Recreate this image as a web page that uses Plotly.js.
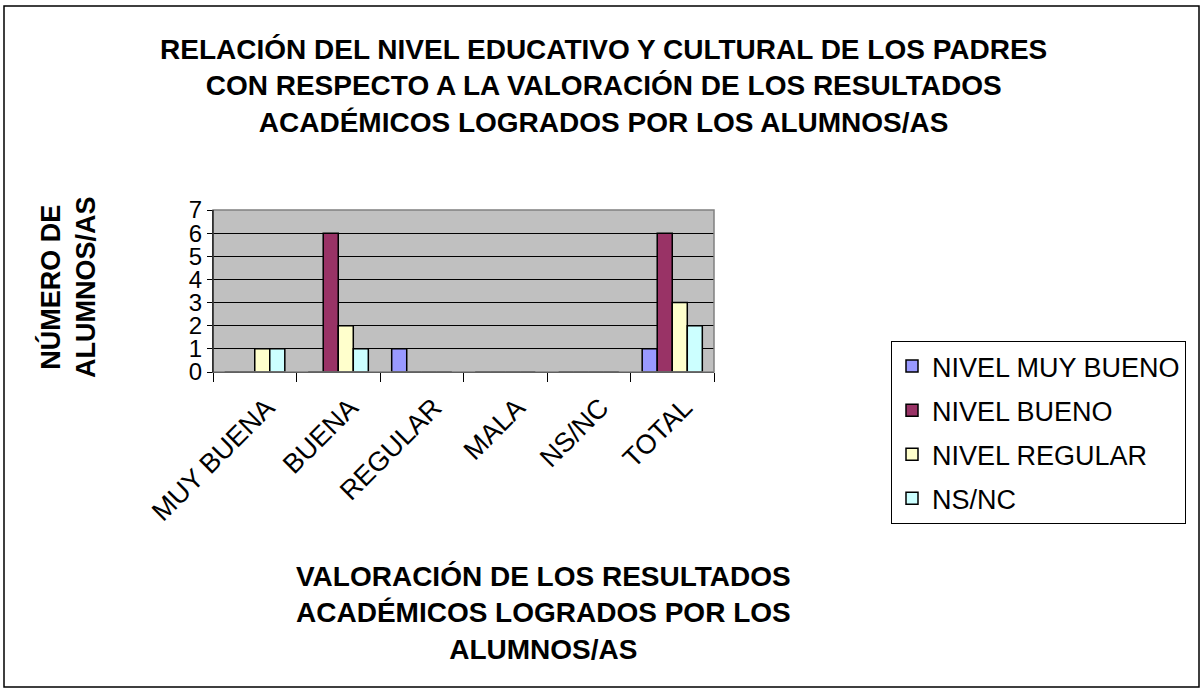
<!DOCTYPE html>
<html><head><meta charset="utf-8">
<script src="https://cdn.plot.ly/plotly-3.0.1.min.js"></script>
<style>html,body{margin:0;padding:0;background:#fff;}#chart{width:1203px;height:693px;}</style>
</head><body><div id="chart"></div>
<script>
const categories = ["MUY BUENA", "BUENA", "REGULAR", "MALA", "NS/NC", "TOTAL"];
const seriesNames = ["NIVEL MUY BUENO", "NIVEL BUENO", "NIVEL REGULAR", "NS/NC"];
const nivelMuyBueno = [0, 0, 1, 0, 0, 1];
const nivelBueno = [0, 6, 0, 0, 0, 6];
const nivelRegular = [1, 2, 0, 0, 0, 3];
const nsnc = [1, 1, 0, 0, 0, 2];
const yTicks = [0, 1, 2, 3, 4, 5, 6, 7];
const colors = ["#9999ff", "#993366", "#ffffcc", "#ccffff"];

const allSeries = [nivelMuyBueno, nivelBueno, nivelRegular, nsnc];
const traces = allSeries.map((vals, i) => ({
  type: "bar", x: categories, y: vals, name: seriesNames[i],
  legendgroup: "g" + i,
  marker: {color: colors[i], line: {color: "#000", width: 1.5}},
  hoverinfo: "x+y+name"
}));

const L = 213, R = 714, T = 210, B = 372, W = 1203, H = 693;
const pw = R - L, ph = B - T;
const px = x => (x - L) / pw;
const py = y => (B - y) / ph;
const FF = "Liberation Sans, Arial, sans-serif";

const layout = {
  width: W, height: H,
  margin: {l: L, r: W - R, t: T, b: H - B, pad: 0},
  paper_bgcolor: "#fff", plot_bgcolor: "#c0c0c0",
  font: {family: FF, color: "#000", size: 27},
  barmode: "group", bargap: 0.28, bargroupgap: 0,
  showlegend: true,
  legend: {
    x: px(891), y: py(341), xanchor: "left", yanchor: "top",
    bgcolor: "#fff", bordercolor: "#000", borderwidth: 1,
    font: {size: 27, family: FF},
    tracegroupgap: 6, itemwidth: 30, maxheight: 400
  },
  xaxis: {
    type: "category", tickangle: -45, tickson: "boundaries", ticks: "outside", ticklen: 9,
    tickcolor: "#000", tickfont: {size: 27}, showgrid: false, showline: true, linecolor: "#000",
    linewidth: 1, zeroline: false, mirror: false, ticklabelstandoff: 8, ticklabelshift: 12
  },
  yaxis: {
    range: [0, 7], tickvals: yTicks, ticktext: yTicks.map(String), ticks: "outside", ticklen: 5,
    tickcolor: "#000", tickfont: {size: 24}, showgrid: true, gridcolor: "#000", gridwidth: 1,
    showline: true, linecolor: "#000", linewidth: 1, zeroline: false
  },
  shapes: [
    {type: "rect", xref: "paper", yref: "paper", x0: 0, x1: 1, y0: 0, y1: 1,
     line: {color: "#808080", width: 1.5}, fillcolor: "rgba(0,0,0,0)", layer: "above"},
    {type: "line", xref: "paper", yref: "paper", x0: 0, x1: 0, y0: 0, y1: 1,
     line: {color: "#000", width: 1}, layer: "above"},
    {type: "rect", xref: "paper", yref: "paper", x0: px(4), x1: px(1199), y0: py(687), y1: py(6),
     line: {color: "#000", width: 1.5}, fillcolor: "rgba(0,0,0,0)"}
  ],
  annotations: [
    {xref: "paper", yref: "paper", x: px(603), y: py(86), xanchor: "center", yanchor: "middle",
     text: "<b>RELACIÓN DEL NIVEL EDUCATIVO Y CULTURAL DE LOS PADRES<br>CON RESPECTO A LA VALORACIÓN DE LOS RESULTADOS<br>ACADÉMICOS LOGRADOS POR LOS ALUMNOS/AS</b>",
     showarrow: false, font: {size: 28}, align: "center"},
    {xref: "paper", yref: "paper", x: px(68), y: py(287), xanchor: "center", yanchor: "middle",
     text: "<b>NÚMERO DE<br>ALUMNOS/AS</b>", textangle: -90,
     showarrow: false, font: {size: 27}, align: "center"},
    {xref: "paper", yref: "paper", x: px(543), y: py(613), xanchor: "center", yanchor: "middle",
     text: "<b>VALORACIÓN DE LOS RESULTADOS<br>ACADÉMICOS LOGRADOS POR LOS<br>ALUMNOS/AS</b>",
     showarrow: false, font: {size: 28}, align: "center"}
  ]
};

Plotly.newPlot("chart", traces, layout, {displayModeBar: false, staticPlot: true});
</script></body></html>
